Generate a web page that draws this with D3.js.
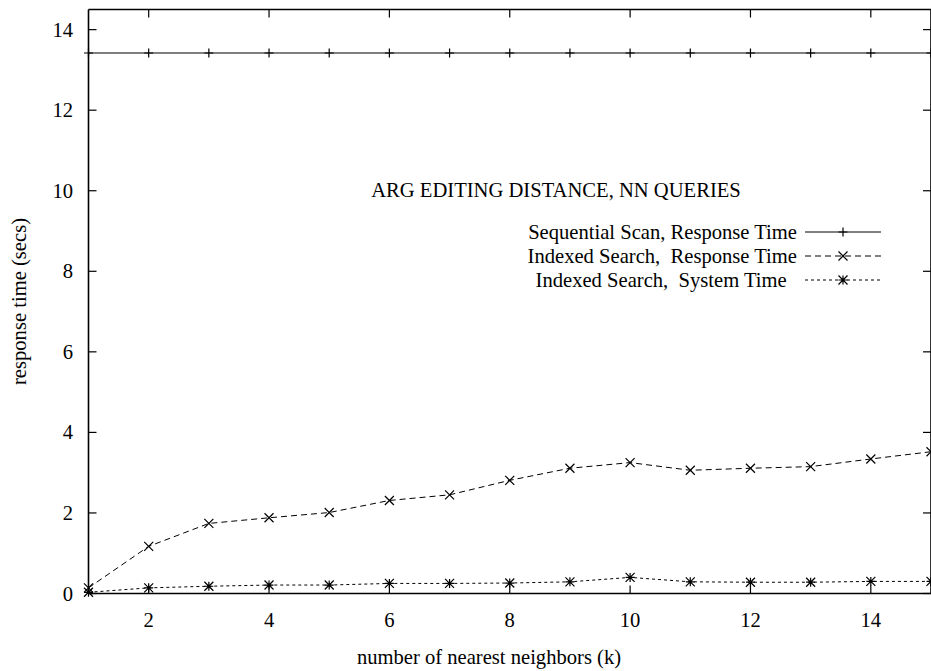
<!DOCTYPE html>
<html>
<head>
<meta charset="utf-8">
<script src="https://cdn.jsdelivr.net/npm/d3@7.9.0/dist/d3.min.js"></script>
<style>
  html, body { margin: 0; padding: 0; background: #fff; }
  svg { display: block; }
</style>
</head>
<body>
<svg id="chart" width="931" height="671"></svg>
<script>
const kValues = [1, 2, 3, 4, 5, 6, 7, 8, 9, 10, 11, 12, 13, 14, 15];
const seqScan = [13.42, 13.42, 13.42, 13.42, 13.42, 13.42, 13.42, 13.42, 13.42, 13.42, 13.42, 13.42, 13.42, 13.42, 13.42];
const idxResponse = [0.14, 1.17, 1.74, 1.88, 2.01, 2.31, 2.45, 2.81, 3.11, 3.25, 3.06, 3.11, 3.15, 3.34, 3.52];
const idxSystem = [0.03, 0.14, 0.18, 0.21, 0.21, 0.25, 0.25, 0.26, 0.29, 0.40, 0.29, 0.28, 0.28, 0.30, 0.30];
const xTicks = [2, 4, 6, 8, 10, 12, 14];
const yTicks = [0, 2, 4, 6, 8, 10, 12, 14];
const legendTitle = 'ARG EDITING DISTANCE, NN QUERIES';
const seriesNames = [
  'Sequential Scan, Response Time',
  'Indexed Search,\u00a0 Response Time',
  'Indexed Search,\u00a0 System Time\u00a0\u00a0'
];

const svg = d3.select('#chart');
const plotLeft = 88.5, plotRight = 931, plotTop = 9.5, plotBottom = 593.5;
const fontSize = 20.6;

const x = d3.scaleLinear().domain([1, 15]).range([plotLeft, plotRight]);
const y = d3.scaleLinear().domain([0, 14.5]).range([plotBottom, plotTop]);

const series = [
  { name: seriesNames[0], values: seqScan, dash: null, mark: 'plus' },
  { name: seriesNames[1], values: idxResponse, dash: '6,4', mark: 'cross' },
  { name: seriesNames[2], values: idxSystem, dash: '3,3', mark: 'star' }
];

function label(sel) {
  return sel.style('font-family', '"Liberation Serif", monospace')
    .attr('font-size', fontSize).attr('fill', '#000');
}

// plot frame
const frame = svg.append('g').attr('stroke', '#000').attr('stroke-width', 1.6);
frame.append('line').attr('x1', plotLeft).attr('x2', plotRight).attr('y1', plotTop).attr('y2', plotTop);
frame.append('line').attr('x1', plotLeft).attr('x2', plotRight).attr('y1', plotBottom).attr('y2', plotBottom);
frame.append('line').attr('x1', plotLeft).attr('x2', plotLeft).attr('y1', plotTop).attr('y2', plotBottom);
frame.append('line').attr('x1', plotRight).attr('x2', plotRight).attr('y1', plotTop).attr('y2', plotBottom);

// ticks (inward, mirrored like gnuplot)
const tickLen = 8;
const ticks = svg.append('g').attr('stroke', '#000').attr('stroke-width', 1.2);
xTicks.forEach((t) => {
  ticks.append('line').attr('x1', x(t)).attr('x2', x(t)).attr('y1', plotBottom).attr('y2', plotBottom - tickLen);
  ticks.append('line').attr('x1', x(t)).attr('x2', x(t)).attr('y1', plotTop).attr('y2', plotTop + tickLen);
});
yTicks.forEach((t) => {
  ticks.append('line').attr('x1', plotLeft).attr('x2', plotLeft + tickLen).attr('y1', y(t)).attr('y2', y(t));
  ticks.append('line').attr('x1', plotRight).attr('x2', plotRight - tickLen).attr('y1', y(t)).attr('y2', y(t));
});

// tick labels
svg.append('g').selectAll('text').data(xTicks).join('text')
  .attr('x', (d) => x(d)).attr('y', 627)
  .attr('text-anchor', 'middle')
  .call(label)
  .text((d) => d);
svg.append('g').selectAll('text').data(yTicks).join('text')
  .attr('x', 73).attr('y', (d) => y(d) + 7)
  .attr('text-anchor', 'end')
  .call(label)
  .text((d) => d);

// axis titles
svg.append('text').attr('x', 489).attr('y', 664)
  .attr('text-anchor', 'middle')
  .call(label)
  .text('number of nearest neighbors (k)');
svg.append('text')
  .attr('transform', `translate(26,${(plotTop + plotBottom) / 2}) rotate(-90)`)
  .attr('text-anchor', 'middle')
  .call(label)
  .text('response time (secs)');

// markers
function drawMark(g, type, cx, cy) {
  const s = 4.5;
  const path = d3.path();
  if (type === 'plus' || type === 'star') {
    path.moveTo(cx - s, cy); path.lineTo(cx + s, cy);
    path.moveTo(cx, cy - s); path.lineTo(cx, cy + s);
  }
  if (type === 'cross' || type === 'star') {
    path.moveTo(cx - s, cy - s); path.lineTo(cx + s, cy + s);
    path.moveTo(cx - s, cy + s); path.lineTo(cx + s, cy - s);
  }
  g.append('path').attr('d', path.toString())
    .attr('stroke', '#000').attr('stroke-width', 1.2).attr('fill', 'none');
}

const line = d3.line().x((d) => x(d[0])).y((d) => y(d[1]));
const plot = svg.append('g');
series.forEach((s) => {
  const pts = kValues.map((k, i) => [k, s.values[i]]);
  plot.append('path').datum(pts)
    .attr('d', line)
    .attr('fill', 'none').attr('stroke', '#000').attr('stroke-width', 1)
    .attr('stroke-dasharray', s.dash);
  pts.forEach((p) => drawMark(plot, s.mark, x(p[0]), y(p[1])));
});

// legend
svg.append('text').attr('x', 556).attr('y', 197)
  .attr('text-anchor', 'middle')
  .call(label)
  .text(legendTitle);
const legend = svg.append('g');
series.forEach((s, i) => {
  const ly = 232 + i * 24;
  legend.append('text').attr('x', 797).attr('y', ly + 7)
    .attr('text-anchor', 'end')
    .call(label)
    .text(s.name);
  legend.append('line').attr('x1', 805).attr('x2', 881).attr('y1', ly).attr('y2', ly)
    .attr('stroke', '#000').attr('stroke-width', 1)
    .attr('stroke-dasharray', s.dash);
  drawMark(legend, s.mark, 843, ly);
});
</script>
</body>
</html>
